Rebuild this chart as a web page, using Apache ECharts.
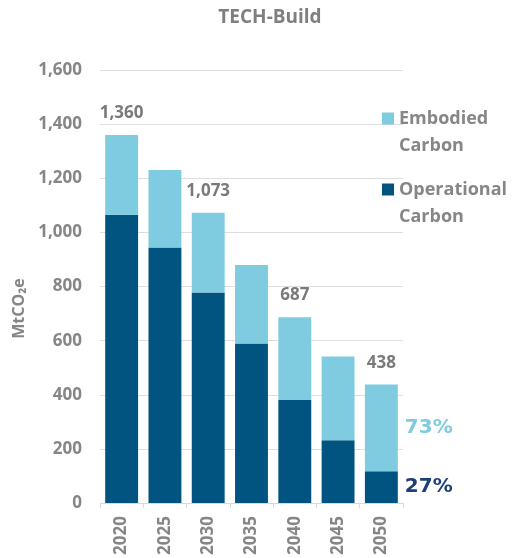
<!DOCTYPE html>
<html>
<head>
<meta charset="utf-8">
<title>TECH-Build</title>
<script src="https://cdn.jsdelivr.net/npm/echarts@6/dist/echarts.min.js"></script>
<style>
  html, body { margin: 0; padding: 0; background: #fff; }
  #chart { width: 515px; height: 558px; }
</style>
</head>
<body>
<div id="chart"></div>
<script>
// Building-sector emissions, MtCO2e
const years = ['2020', '2025', '2030', '2035', '2040', '2045', '2050'];
const operational = [1065, 944, 778, 590, 381, 232, 118];
const embodied = [295, 287, 295, 290, 306, 310, 320];
// years whose total is printed above the stack
const labelledYears = ['2020', '2030', '2040', '2050'];

const totals = years.map((_, i) => operational[i] + embodied[i]);
const last = years.length - 1;
const pct = v => Math.round(v / totals[last] * 100) + '%';

const FONT = '"Open Sans", "Noto Sans", sans-serif';
const WIDE = '"DejaVu Sans", sans-serif';
const GREY = '#868686';
const LIGHT = '#7fcbe0';
const DARK = '#00547f';

const chart = echarts.init(document.getElementById('chart'), null, { renderer: 'canvas' });

chart.setOption({
  animation: false,
  textStyle: { fontFamily: FONT },
  title: {
    text: 'TECH-Build',
    left: 265,
    textAlign: 'center',
    top: 3,
    textStyle: { fontFamily: FONT, fontSize: 19, fontWeight: 'bold', color: '#7f7f7f' }
  },
  legend: {
    orient: 'vertical',
    left: 382,
    top: 78,
    padding: 0,
    itemGap: -10,
    itemWidth: 12,
    itemHeight: 12,
    icon: 'rect',
    data: ['Embodied\nCarbon', 'Operational\nCarbon'],
    // leading blank line keeps the swatch level with the first word
    formatter: name => '\n' + name,
    textStyle: {
      fontFamily: FONT, fontSize: 18, fontWeight: 'bold', color: GREY,
      lineHeight: 27
    }
  },
  grid: { left: 100, right: 112, top: 70, bottom: 54, containLabel: false },
  xAxis: {
    type: 'category',
    data: years,
    axisLine: { lineStyle: { color: '#d9d9d9', width: 1 } },
    axisTick: { show: true, length: 5, lineStyle: { color: '#d9d9d9' } },
    axisLabel: {
      rotate: 90, margin: 13,
      fontFamily: FONT, fontSize: 17, fontWeight: 'bold', color: GREY
    }
  },
  yAxis: {
    type: 'value',
    min: 0, max: 1600, interval: 200,
    name: 'MtCO₂e',
    nameLocation: 'middle',
    nameGap: 67,
    nameRotate: 90,
    nameTextStyle: { fontFamily: FONT, fontSize: 16, fontWeight: 'bold', color: GREY, padding: [0, 44, 0, 0] },
    axisLine: { show: false },
    axisTick: { show: false },
    splitLine: { lineStyle: { color: '#dedede', width: 1 } },
    axisLabel: {
      margin: 18,
      fontFamily: FONT, fontSize: 17, fontWeight: 'bold', color: GREY,
      formatter: v => v.toLocaleString('en-US')
    }
  },
  series: [
    {
      name: 'Operational\nCarbon',
      type: 'bar',
      stack: 'total',
      barCategoryGap: '24%',
      itemStyle: { color: DARK },
      data: operational.map((v, i) => ({
        value: v,
        label: i === last ? {
          show: true, position: 'right', distance: 7,
          formatter: () => pct(v),
          fontFamily: WIDE, fontSize: 20, fontWeight: 'bold', color: '#1d3f78'
        } : { show: false }
      }))
    },
    {
      name: 'Embodied\nCarbon',
      type: 'bar',
      stack: 'total',
      barCategoryGap: '24%',
      itemStyle: { color: LIGHT },
      data: embodied.map((v, i) => ({
        value: v,
        label: i === last ? {
          show: true, position: 'right', distance: 7,
          formatter: () => pct(v),
          fontFamily: WIDE, fontSize: 20, fontWeight: 'bold', color: LIGHT
        } : { show: false }
      }))
    },
    {
      // invisible carrier for the stack totals
      name: 'Total',
      type: 'bar',
      barGap: '-100%',
      barCategoryGap: '24%',
      itemStyle: { color: 'transparent' },
      silent: true,
      z: 0,
      data: totals.map((t, i) => ({
        value: t,
        label: {
          show: labelledYears.includes(years[i]),
          position: 'top',
          distance: 13,
          formatter: () => t.toLocaleString('en-US'),
          fontFamily: FONT, fontSize: 17, fontWeight: 'bold', color: '#7a7a7a'
        }
      }))
    }
  ]
});
</script>
</body>
</html>
